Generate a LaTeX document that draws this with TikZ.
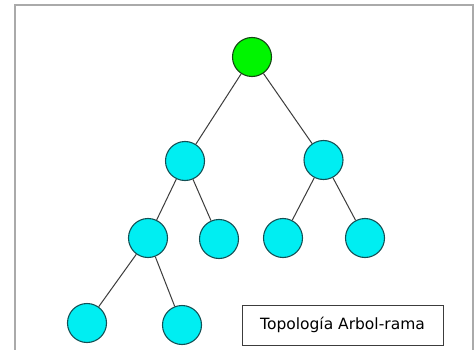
\documentclass[tikz,border=0pt]{standalone}
\usepackage{fontspec}
\setmainfont{DejaVu Sans}
\definecolor{cian}{RGB}{0,238,242}
\definecolor{bordecian}{RGB}{20,80,85}
\definecolor{verde}{RGB}{0,245,0}
\definecolor{bordeverde}{RGB}{20,70,20}
\definecolor{linea}{RGB}{60,60,60}
\definecolor{marco}{RGB}{170,170,170}
\begin{document}
\begin{tikzpicture}[x=1pt,y=-1pt,
  nodo/.style={circle,draw=bordecian,line width=1.1pt,fill=cian,minimum size=39pt,inner sep=0pt},
  raiz/.style={circle,draw=bordeverde,line width=1.1pt,fill=verde,minimum size=39pt,inner sep=0pt},
  enlace/.style={draw=linea,line width=1pt},
  etiqueta/.style={draw=linea,line width=1pt,minimum width=201pt,minimum height=40pt,font=\fontsize{15.5}{17}\selectfont,inner sep=0pt}]
\useasboundingbox (0,0) rectangle (476,350);
\fill[white] (0,0) rectangle (476,350);
\draw[marco,line width=1.5pt] (15,351) -- (15,5) -- (473,5) -- (473,351);
\node[raiz] (r) at (252,57) {};
\node[nodo] (a) at (185,161) {};
\node[nodo] (b) at (323.5,160) {};
\node[nodo] (c) at (148,238) {};
\node[nodo] (d) at (219,239) {};
\node[nodo] (e) at (283,238) {};
\node[nodo] (f) at (365,238) {};
\node[nodo] (g) at (87,323) {};
\node[nodo] (h) at (182,325) {};
\node[etiqueta] (t) at (342.5,325) {Topología Arbol-rama};
\path[enlace] (r) -- (a);
\path[enlace] (r) -- (b);
\path[enlace] (a) -- (c);
\path[enlace] (a) -- (d);
\path[enlace] (b) -- (e);
\path[enlace] (b) -- (f);
\path[enlace] (c) -- (g);
\path[enlace] (c) -- (h);
\end{tikzpicture}
\end{document}
